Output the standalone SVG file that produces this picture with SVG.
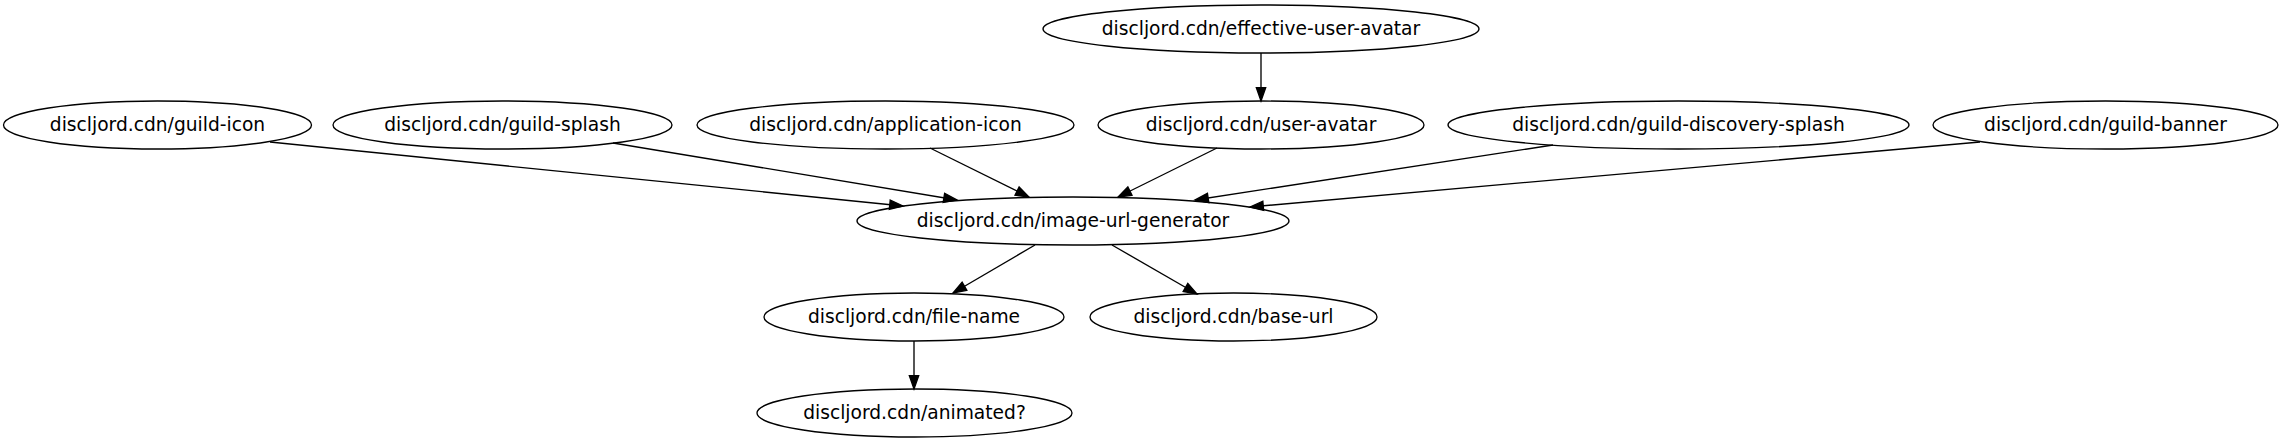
<svg xmlns="http://www.w3.org/2000/svg" width="2282" height="443" viewBox="0 0 2282 443">
<style>
.n ellipse{fill:none;stroke:#000;stroke-width:1.33}
.n text{font-family:"DejaVu Sans","Liberation Sans",sans-serif;font-size:18.67px;text-anchor:middle;fill:#000}
#edges line{stroke:#000;stroke-width:1.33;marker-end:url(#ah)}
</style>
<defs>
<marker id="ah" markerUnits="userSpaceOnUse" markerWidth="16" markerHeight="12" refX="13.3" refY="0" viewBox="0 -6 16 12" orient="auto" overflow="visible">
<path d="M0,-4.67 L13.3,0 L0,4.67 Z" fill="#000" stroke="#000" stroke-width="1.33"/>
</marker>
</defs>
<rect width="2282" height="443" fill="#fff"/>
<g id="edges">
<line x1="270" y1="142" x2="903" y2="206"/>
<line x1="613" y1="143" x2="957" y2="200"/>
<line x1="930" y1="148" x2="1029" y2="197"/>
<line x1="1217" y1="148" x2="1118" y2="197"/>
<line x1="1553" y1="145" x2="1195" y2="200"/>
<line x1="1980" y1="142" x2="1250" y2="207"/>
<line x1="1261" y1="53" x2="1261" y2="101"/>
<line x1="1035" y1="245" x2="953" y2="293"/>
<line x1="1112" y1="245" x2="1197" y2="294"/>
<line x1="914" y1="341" x2="914" y2="389"/>
</g>
<g id="guild-icon" class="n"><ellipse cx="157.5" cy="125" rx="154" ry="24"/><text x="157.5" y="130.5">discljord.cdn/guild-icon</text></g>
<g id="guild-splash" class="n"><ellipse cx="502.5" cy="125" rx="169.5" ry="24"/><text x="502.5" y="130.5">discljord.cdn/guild-splash</text></g>
<g id="application-icon" class="n"><ellipse cx="885.5" cy="125" rx="188.5" ry="24"/><text x="885.5" y="130.5">discljord.cdn/application-icon</text></g>
<g id="effective-user-avatar" class="n"><ellipse cx="1261" cy="29" rx="218" ry="24"/><text x="1261" y="34.5">discljord.cdn/effective-user-avatar</text></g>
<g id="user-avatar" class="n"><ellipse cx="1261" cy="125" rx="163" ry="24"/><text x="1261" y="130.5">discljord.cdn/user-avatar</text></g>
<g id="guild-discovery-splash" class="n"><ellipse cx="1678.5" cy="125" rx="230.5" ry="24"/><text x="1678.5" y="130.5">discljord.cdn/guild-discovery-splash</text></g>
<g id="guild-banner" class="n"><ellipse cx="2105.5" cy="125" rx="172.5" ry="24"/><text x="2105.5" y="130.5">discljord.cdn/guild-banner</text></g>
<g id="image-url-generator" class="n"><ellipse cx="1073" cy="221" rx="216" ry="24"/><text x="1073" y="226.5">discljord.cdn/image-url-generator</text></g>
<g id="file-name" class="n"><ellipse cx="914" cy="317" rx="150" ry="24"/><text x="914" y="322.5">discljord.cdn/file-name</text></g>
<g id="base-url" class="n"><ellipse cx="1233.5" cy="317" rx="143.5" ry="24"/><text x="1233.5" y="322.5">discljord.cdn/base-url</text></g>
<g id="animated" class="n"><ellipse cx="914.5" cy="413" rx="157.5" ry="24"/><text x="914.5" y="418.5">discljord.cdn/animated?</text></g>
</svg>
